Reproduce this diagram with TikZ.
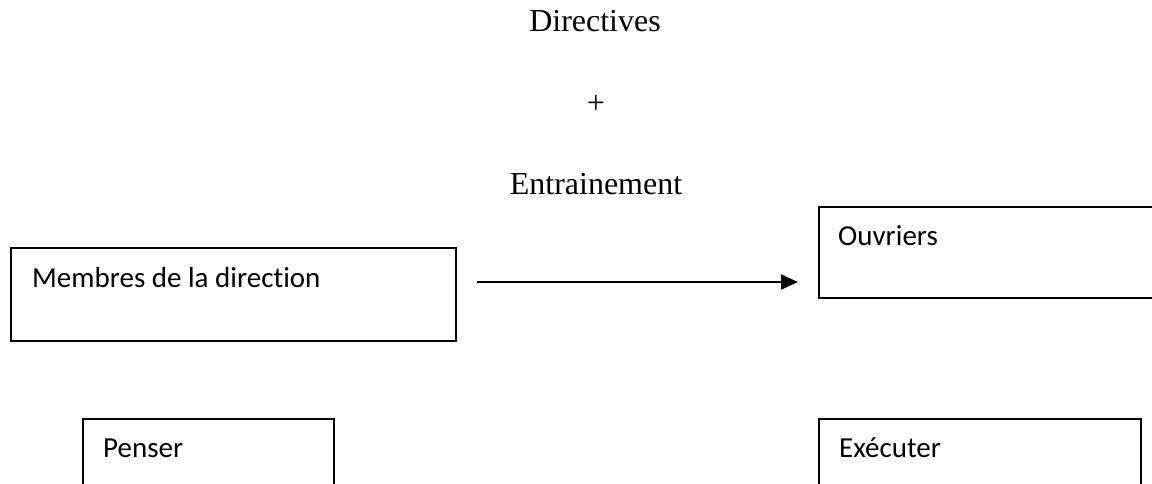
\documentclass[tikz,border=0pt]{standalone}
\usepackage{fontspec}
\setmainfont{Liberation Serif}
\newfontfamily\boxfont[Ligatures={NoCommon,NoRequired,NoContextual}]{Carlito}
\usetikzlibrary{arrows.meta,calc}
\tikzset{
  boxshape/.style={draw=black, line width=2pt, rectangle, inner sep=0pt, anchor=north west},
  boxlabel/.style={anchor=base west, inner sep=0pt, font=\boxfont\fontsize{29}{35}\selectfont},
  toptext/.style={anchor=base, inner sep=0pt, font=\fontsize{32}{38}\selectfont},
  arr/.style={line width=2pt, -{Triangle[length=17pt,width=15pt]}}
}
\begin{document}
\begin{tikzpicture}[x=1pt,y=-1pt]
\clip (0,0) rectangle (1152,483);
\fill[white] (0,0) rectangle (1152,483);
% top texts
\node[toptext] (dir) at (595,31) {Directives};
\node[toptext, anchor=center] (plus) at (596,104) {+};
\node[toptext] (ent) at (596,194) {Entrainement};
% boxes
\node[boxshape, minimum width=445pt, minimum height=93pt] (m) at (10,247) {};
\node[boxlabel] (mt) at ($(m.north west)+(22,40)$) {Membres de la direction};
\node[boxshape, minimum width=360pt, minimum height=91pt] (o) at (818,206) {};
\node[boxlabel] (ot) at ($(o.north west)+(20,39)$) {Ouvriers};
\node[boxshape, minimum width=251pt, minimum height=120pt] (p) at (82,418) {};
\node[boxlabel] (pt) at ($(p.north west)+(21,39)$) {Penser};
\node[boxshape, minimum width=322pt, minimum height=120pt] (e) at (818,418) {};
\node[boxlabel] (et) at ($(e.north west)+(21,39)$) {Exécuter};
% arrow
\draw[arr] ($(m.north east)+(20,35)$) -- ($(o.north west)+(-20,76)$);
\end{tikzpicture}
\end{document}
